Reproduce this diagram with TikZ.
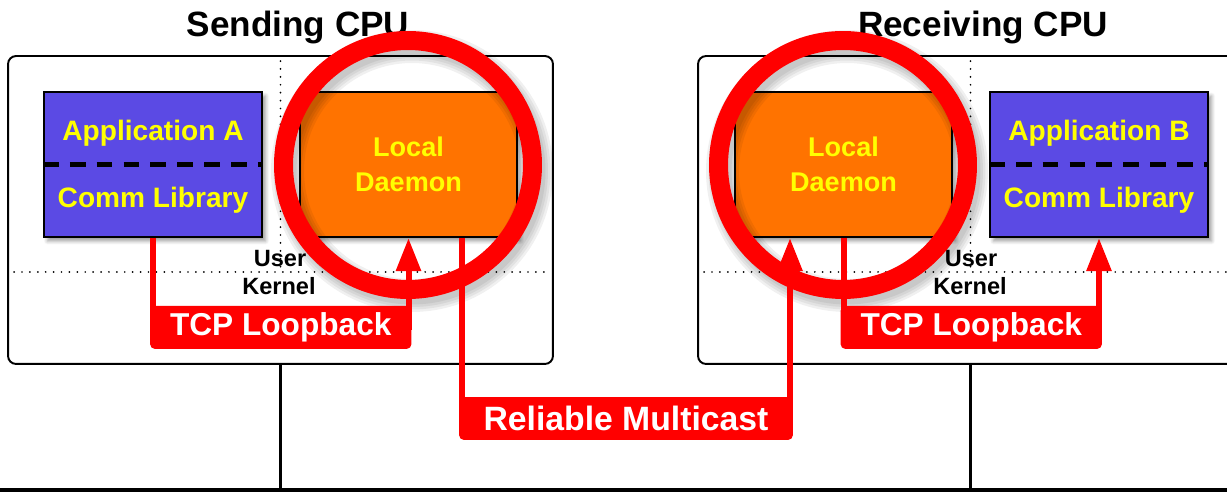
\documentclass[tikz,border=0pt]{standalone}
\usepackage{fontspec}
\setmainfont{Liberation Sans}
\usetikzlibrary{arrows.meta,calc,shadows.blur}
\definecolor{appblue}{RGB}{91,74,228}
\definecolor{daemonorange}{RGB}{255,115,0}
\definecolor{alertred}{RGB}{255,0,0}
\definecolor{labelyellow}{RGB}{255,255,0}

\begin{document}
\begin{tikzpicture}[x=0.02cm, y=-0.02cm]
            \tikzstyle{cpubox} = [draw, line width=1.1pt, rounded corners=0.16cm, minimum width=10.9cm, minimum height=6.16cm, inner sep=0pt]
            \tikzstyle{appbox} = [draw, line width=1.3pt, fill=appblue, minimum width=4.36cm, minimum height=2.9cm, inner sep=0pt, blur shadow={shadow xshift=0.07cm, shadow yshift=-0.08cm, shadow blur steps=6}]
            \tikzstyle{daemonbox} = [appbox, fill=daemonorange, minimum width=4.34cm, align=center, text=labelyellow, font=\fontsize{15.4}{19.9}\selectfont\bfseries]
            \tikzstyle{ring} = [circle, draw=alertred, line width=0.38cm, minimum size=4.98cm, inner sep=0pt]
            \tikzstyle{ringshade} = [ring, draw=black, draw opacity=0.06]
            \tikzstyle{redline} = [draw=alertred, line width=0.12cm]
            \tikzstyle{redarrow} = [redline, -{Triangle[length=0.66cm, width=0.48cm]}]
            \tikzstyle{tag} = [fill=alertred, rounded corners=0.1cm, minimum height=0.86cm, inner sep=0pt, text=white, font=\fontsize{18}{20}\selectfont\bfseries]
            \tikzstyle{apptext} = [anchor=base, text=labelyellow, font=\fontsize{16}{18}\selectfont\bfseries]
            \tikzstyle{title} = [anchor=base, font=\fontsize{20}{24}\selectfont\bfseries]
            \tikzstyle{layer} = [anchor=base, inner sep=0pt, font=\fontsize{13.4}{15}\selectfont\bfseries]
            \tikzstyle{dotline} = [line width=1.1pt, dash pattern=on 0pt off 4.5pt, line cap=round]
            \tikzstyle{wire} = [line width=1.5pt]

            \clip (0,0) rectangle (1227,492);

            % the two machines
            \node[cpubox] (cpuA) at (280.5,210) {};
            \node[cpubox] (cpuB) at (970.5,210) {};
            \node[title] (sendT) at (298,37) {Sending CPU};
            \node[title] (recvT) at (983,37) {Receiving CPU};

            % user / kernel split
            \coordinate (splitA) at (280.5,272);
            \coordinate (splitB) at (970.5,272);
            \draw[dotline, shorten <=0.12cm] (cpuA.north) -- (splitA);
            \draw[dotline, shorten <=0.14cm, shorten >=0.1cm] (cpuA.west |- splitA) -- (cpuA.east |- splitA);
            \draw[dotline, shorten <=0.12cm] (cpuB.north) -- (splitB);
            \draw[dotline, shorten <=0.14cm] (cpuB.west |- splitB) -- (cpuB.east |- splitB);
            \node[layer] (userA) at (280,267) {User};
            \node[layer] (kernA) at (279,295) {Kernel};
            \node[layer] (userB) at (971,267) {User};
            \node[layer] (kernB) at (970,295) {Kernel};

            % applications
            \node[appbox] (appA) at (153,164.5) {};
            \draw[line width=2.3pt, dash pattern=on 9pt off 6.3pt] (appA.west) -- (appA.east);
            \node[apptext] (appAname) at (153,141) {Application A};
            \node[apptext] (appAlib) at (153,208) {Comm Library};

            \node[appbox] (appB) at (1099,164.5) {};
            \draw[line width=2.3pt, dash pattern=on 9pt off 6.3pt] (appB.west) -- (appB.east);
            \node[apptext] (appBname) at (1099,141) {Application B};
            \node[apptext] (appBlib) at (1099,208) {Comm Library};

            % daemons
            \node[daemonbox] (dmnA) at (408.5,164.5) {Local\\Daemon};
            \node[daemonbox] (dmnB) at (843.5,164.5) {Local\\Daemon};

            % soft shadow under the rings
            \foreach \w in {0.36,0.46,0.56,0.66} {
                \node[ringshade, line width=\w cm] at (412,171) {};
                \node[ringshade, line width=\w cm] at (847,171) {};
            }
            \node[ring] (ringA) at (408,165) {};
            \node[ring] (ringB) at (843,165) {};

            % message paths
            \draw[redarrow] (appA.south) |- (281,327.5) -| (dmnA.south);
            \draw[redarrow] ($(dmnA.south)+(53.5,0)$) |- (626,418.5) -| ($(dmnB.south)+(-53.5,0)$);
            \draw[redarrow] (dmnB.south) |- (971,327.5) -| (appB.south);
            \node[tag, minimum width=5.23cm] (loopA) at (280.75,327.5) {TCP Loopback};
            \node[tag, minimum width=6.68cm, font=\fontsize{19.2}{21}\selectfont\bfseries] (mcast) at (626,418.5) {Reliable Multicast};
            \node[tag, minimum width=5.23cm] (loopB) at (971.25,327.5) {TCP Loopback};

            % network
            \coordinate (busW) at (0,490);
            \coordinate (busE) at (1227,490);
            \draw[wire] (cpuA.south) -- (cpuA.south |- busW);
            \draw[wire] (cpuB.south) -- (cpuB.south |- busW);
            \draw[line width=1.8pt] (busW) -- (busE);
        \end{tikzpicture}
\end{document}
